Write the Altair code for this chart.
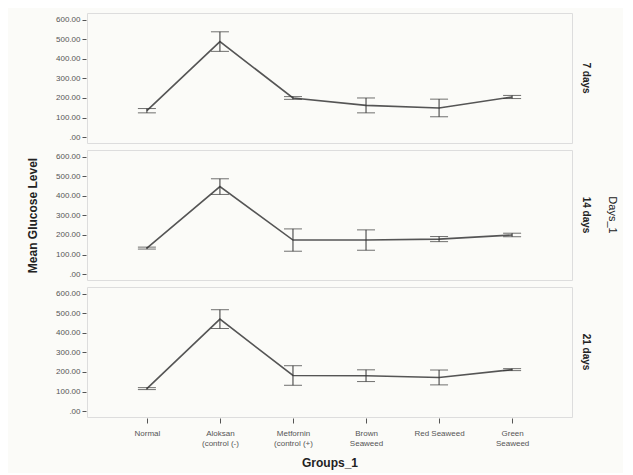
import altair as alt
import pandas as pd

groups = ["Normal", "Aloksan (control (-)", "Metfornin (control (+)", "Brown Seaweed", "Red Seaweed", "Green Seaweed"]
group_lines = {
    "Normal": ["Normal"],
    "Aloksan (control (-)": ["Aloksan", "(control (-)"],
    "Metfornin (control (+)": ["Metfornin", "(control (+)"],
    "Brown Seaweed": ["Brown", "Seaweed"],
    "Red Seaweed": ["Red Seaweed"],
    "Green Seaweed": ["Green", "Seaweed"],
}
days = ["7 days", "14 days", "21 days"]
mean_7 = [135, 488, 200, 162, 149, 205]
err_7 = [11, 50, 7, 38, 45, 8]
mean_14 = [133, 447, 174, 174, 179, 200]
err_14 = [5, 40, 57, 52, 13, 9]
mean_21 = [115, 470, 182, 181, 172, 212]
err_21 = [5, 48, 50, 30, 38, 5]
y_ticks = [0, 100, 200, 300, 400, 500, 600]

rows = []
for d, means, errs in [(days[0], mean_7, err_7), (days[1], mean_14, err_14), (days[2], mean_21, err_21)]:
    for g, m, e in zip(groups, means, errs):
        rows.append({"Groups_1": g, "Days_1": d, "mean": m, "lo": m - e, "hi": m + e})
df = pd.DataFrame(rows)

label_expr = " : ".join(
    f"datum.label == '{k}' ? {v!r}" for k, v in group_lines.items()
) + " : datum.label"

x_scale = alt.Scale(type="point", padding=0.82)
y_scale = alt.Scale(domain=[-30, 634], nice=False, zero=False)


def panel(i, d):
    sub = df[df["Days_1"] == d]
    bottom = i == len(days) - 1
    middle = i == 1
    if bottom:
        x_axis = alt.Axis(labelExpr=label_expr, labelAngle=0, labelFontSize=8, labelColor="#555",
                          tickSize=5, tickColor="#555", domain=False, titleFontSize=12,
                          titleFontWeight="bold", titleColor="#222", labelPadding=6, titlePadding=10)
        x_enc = alt.X("Groups_1:N", sort=groups, title="Groups_1", scale=x_scale, axis=x_axis)
    else:
        x_enc = alt.X("Groups_1:N", sort=groups, scale=x_scale, axis=None)
    y_title = "Mean Glucose Level" if middle else ""
    y_axis = alt.Axis(values=y_ticks, tickCount=7,
                      labelExpr="datum.value == 0 ? '.00' : format(datum.value, '.2f')",
                      labelFontSize=8, labelColor="#555", tickSize=4, tickColor="#555",
                      labelOverlap=False, labelFlush=False,
                      domain=False, grid=False, titleFontSize=12, titleFontWeight="bold",
                      titleColor="#222", titlePadding=16, title=y_title)
    base = alt.Chart(sub)
    line = base.mark_line(color="#555555", strokeWidth=1.6).encode(
        x=x_enc,
        y=alt.Y("mean:Q", scale=y_scale, axis=y_axis),
    )
    rule = base.mark_rule(color="#333333", strokeWidth=1).encode(
        x=alt.X("Groups_1:N", sort=groups), y=alt.Y("lo:Q", axis=y_axis), y2="hi:Q"
    )
    cap_lo = base.mark_tick(color="#333333", thickness=1, size=18, orient="horizontal").encode(
        x=alt.X("Groups_1:N", sort=groups), y=alt.Y("lo:Q", axis=y_axis)
    )
    cap_hi = base.mark_tick(color="#333333", thickness=1, size=18, orient="horizontal").encode(
        x=alt.X("Groups_1:N", sort=groups), y=alt.Y("hi:Q", axis=y_axis)
    )
    layer = alt.layer(line, rule, cap_lo, cap_hi).properties(width=485, height=130)
    return layer.facet(
        row=alt.Row("Days_1:N", title="Days_1" if middle else "",
                    header=alt.Header(labelAngle=90, labelOrient="right", labelFontSize=10,
                                      labelFontWeight="bold", labelColor="#222", labelPadding=8,
                                      titleOrient="right", titleAngle=90, titleFontSize=11,
                                      titleFontWeight="normal", titleColor="#222", titlePadding=6)),
    )


chart = alt.vconcat(*[panel(i, d) for i, d in enumerate(days)], spacing=5).properties(
    padding={"left": 18, "top": 4, "right": 5, "bottom": 5}
).configure_view(
    fill="#ecece8", stroke="#6e6e6e", strokeWidth=1.5
).configure(
    font="Liberation Sans", background="#fbfbf8"
)

chart.save("out.html", embed_options={"renderer": "svg", "actions": False})
